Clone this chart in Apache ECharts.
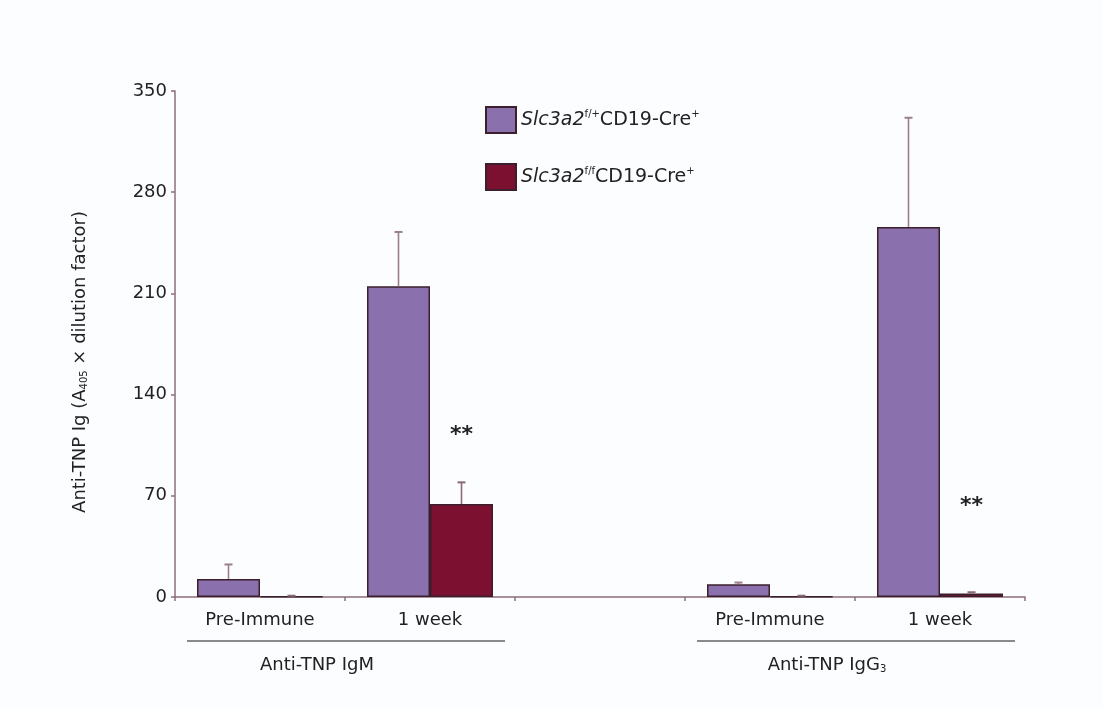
<!DOCTYPE html>
<html>
<head>
<meta charset="utf-8">
<script src="https://cdn.jsdelivr.net/npm/echarts@6/dist/echarts.min.js"></script>
<style>
  html, body { margin: 0; padding: 0; background: #fcfdff; }
  #chart { width: 1103px; height: 709px; }
</style>
</head>
<body>
<div id="chart"></div>
<script>
// Time points on the x axis; the blank slot separates the IgM and IgG3 groups
const categories = ['Pre-Immune', '1 week', '', 'Pre-Immune', '1 week'];
// Assay groups drawn under the time points, with the index of their first time point
const groupLabels = ['Anti-TNP IgM', 'Anti-TNP IgG{sub|3}'];
const groupStart = [0, 3];
const yTitle = 'Anti-TNP Ig (A{sub|405} × dilution factor)';

// Slc3a2 f/+ CD19-Cre+ (control) means and SEM
const controlMean = [12.5, 215, null, 8.8, 256];
const controlErr = [10, 37.5, null, 1.2, 75.5];
// Slc3a2 f/f CD19-Cre+ (knockout) means and SEM
const knockoutMean = [0.5, 64.3, null, 0.5, 2.5];
const knockoutErr = [0.4, 15, null, 0.4, 0.8];
// Heights of the significance markers above the knockout bars
const sigLevel = [null, 112, null, null, 63];
const sigText = '**';

// Y axis scale
const yMin = 0, yMax = 350, yStep = 70;

const seriesNames = ['control', 'knockout'];
const legendText = {
  control: '{i|Slc3a2}{sup|f/+}{n|CD19-Cre}{sup|+}',
  knockout: '{i|Slc3a2}{sup|f/f}{n|CD19-Cre}{sup|+}'
};

const FONT = 'DejaVu Sans';
const TEXT = '#222222';
const BAR_W = 63;
const AXIS_COLOR = '#8c6e7e';
const EDGE = '#3b1f2c';
const PURPLE = '#8a71ad';
const CRIMSON = '#7b1030';
const subStyle = { fontFamily: FONT, fontSize: 10, color: TEXT, fill: TEXT, verticalAlign: 'bottom', padding: [8, 0, 0, 0] };

function rows(means, errs) {
  const out = [];
  means.forEach((m, i) => { if (m != null) out.push([i, m, errs[i]]); });
  return out;
}

function errorBars(means, errs, side, color) {
  return {
    type: 'custom',
    z: 5,
    silent: true,
    encode: { x: 0, y: 1 },
    data: rows(means, errs),
    renderItem: function (params, api) {
      const i = api.value(0), m = api.value(1), e = api.value(2);
      const base = api.coord([i, m]);
      const top = api.coord([i, m + e]);
      const x = base[0] + side * BAR_W / 2;
      return {
        type: 'group',
        children: [
          { type: 'line', shape: { x1: x, y1: base[1], x2: x, y2: top[1] },
            style: { stroke: color, lineWidth: 1.6 } },
          { type: 'line', shape: { x1: x - 4, y1: top[1], x2: x + 4, y2: top[1] },
            style: { stroke: color, lineWidth: 2 } }
        ]
      };
    }
  };
}

const sigData = [];
sigLevel.forEach((v, i) => { if (v != null) sigData.push([i, v]); });

const chart = echarts.init(document.getElementById('chart'), null, { renderer: 'canvas' });

chart.setOption({
  backgroundColor: '#fcfdff',
  animation: false,
  textStyle: { fontFamily: FONT },
  grid: { left: 175, right: 78, top: 91, bottom: 112 },
  legend: {
    data: seriesNames,
    orient: 'vertical',
    left: 485,
    top: 106,
    padding: 0,
    itemWidth: 30,
    itemHeight: 26,
    itemGap: 29,
    icon: 'rect',
    formatter: function (name) { return legendText[name]; },
    textStyle: {
      rich: {
        i: { fontFamily: FONT, fontStyle: 'italic', fontSize: 19, color: TEXT },
        n: { fontFamily: FONT, fontSize: 19, color: TEXT },
        sup: { fontFamily: FONT, fontSize: 10, color: TEXT, verticalAlign: 'top', padding: [0, 0, 12, 0] }
      }
    }
  },
  xAxis: {
    type: 'category',
    data: categories,
    axisLine: { lineStyle: { color: AXIS_COLOR, width: 1.5 } },
    axisTick: { show: true, length: 4, lineStyle: { color: AXIS_COLOR, width: 1.5 } },
    axisLabel: { fontFamily: FONT, fontSize: 18, color: TEXT, margin: 14, interval: 0 }
  },
  yAxis: {
    type: 'value',
    min: yMin,
    max: yMax,
    interval: yStep,
    axisLine: { show: true, lineStyle: { color: AXIS_COLOR, width: 1.5 } },
    axisTick: { show: true, length: 4, lineStyle: { color: AXIS_COLOR, width: 1.5 } },
    splitLine: { show: false },
    axisLabel: { fontFamily: FONT, fontSize: 18, color: TEXT, margin: 8 }
  },
  series: [
    {
      name: 'control',
      type: 'bar',
      data: controlMean,
      barWidth: BAR_W,
      barGap: '0%',
      itemStyle: { color: PURPLE, borderColor: EDGE, borderWidth: 1.5 }
    },
    {
      name: 'knockout',
      type: 'bar',
      data: knockoutMean,
      barWidth: BAR_W,
      barGap: '0%',
      itemStyle: { color: CRIMSON, borderColor: EDGE, borderWidth: 1.5 }
    },
    errorBars(controlMean, controlErr, -1, '#9b7f8c'),
    errorBars(knockoutMean, knockoutErr, 1, '#8a6a78'),
    {
      type: 'custom',
      z: 6,
      silent: true,
      encode: { x: 0, y: 1 },
      data: sigData,
      renderItem: function (params, api) {
        const p = api.coord([api.value(0), api.value(1)]);
        return {
          type: 'text',
          x: p[0] + BAR_W / 2,
          y: p[1],
          style: {
            text: sigText, fontFamily: FONT, fontSize: 22, fontWeight: 'bold',
            fill: TEXT, align: 'center', verticalAlign: 'middle'
          }
        };
      }
    }
  ]
});

// Axis title, group rules and group labels placed from the axis geometry
function drawAnnotations() {
  const x0 = chart.convertToPixel({ xAxisIndex: 0 }, 0);
  const x1 = chart.convertToPixel({ xAxisIndex: 0 }, 1);
  const catW = x1 - x0;
  const axisY = chart.convertToPixel({ yAxisIndex: 0 }, yMin);
  const topY = chart.convertToPixel({ yAxisIndex: 0 }, yMax);
  const graphics = [{
    type: 'text',
    x: x0 - catW / 2 - 95,
    y: (axisY + topY) / 2 + 18,
    rotation: Math.PI / 2,
    style: {
      text: yTitle, fontFamily: FONT, fontSize: 18, fill: TEXT,
      align: 'center', verticalAlign: 'middle',
      rich: { sub: subStyle }
    }
  }];
  groupStart.forEach((c, g) => {
    const a = chart.convertToPixel({ xAxisIndex: 0 }, c);
    const b = chart.convertToPixel({ xAxisIndex: 0 }, c + 1);
    const left = a - catW / 2 + 12;
    const right = b + catW / 2 - 10;
    graphics.push({
      type: 'line',
      shape: { x1: left, y1: axisY + 44, x2: right, y2: axisY + 44 },
      style: { stroke: '#8a8a8a', lineWidth: 2 }
    });
    graphics.push({
      type: 'text',
      x: (a + b) / 2 - 28,
      y: axisY + 68,
      style: {
        text: groupLabels[g],
        fontFamily: FONT, fontSize: 18, fill: TEXT,
        align: 'center', verticalAlign: 'middle',
        rich: { sub: subStyle }
      }
    });
  });
  chart.setOption({ graphic: graphics });
}
drawAnnotations();
</script>
</body>
</html>
